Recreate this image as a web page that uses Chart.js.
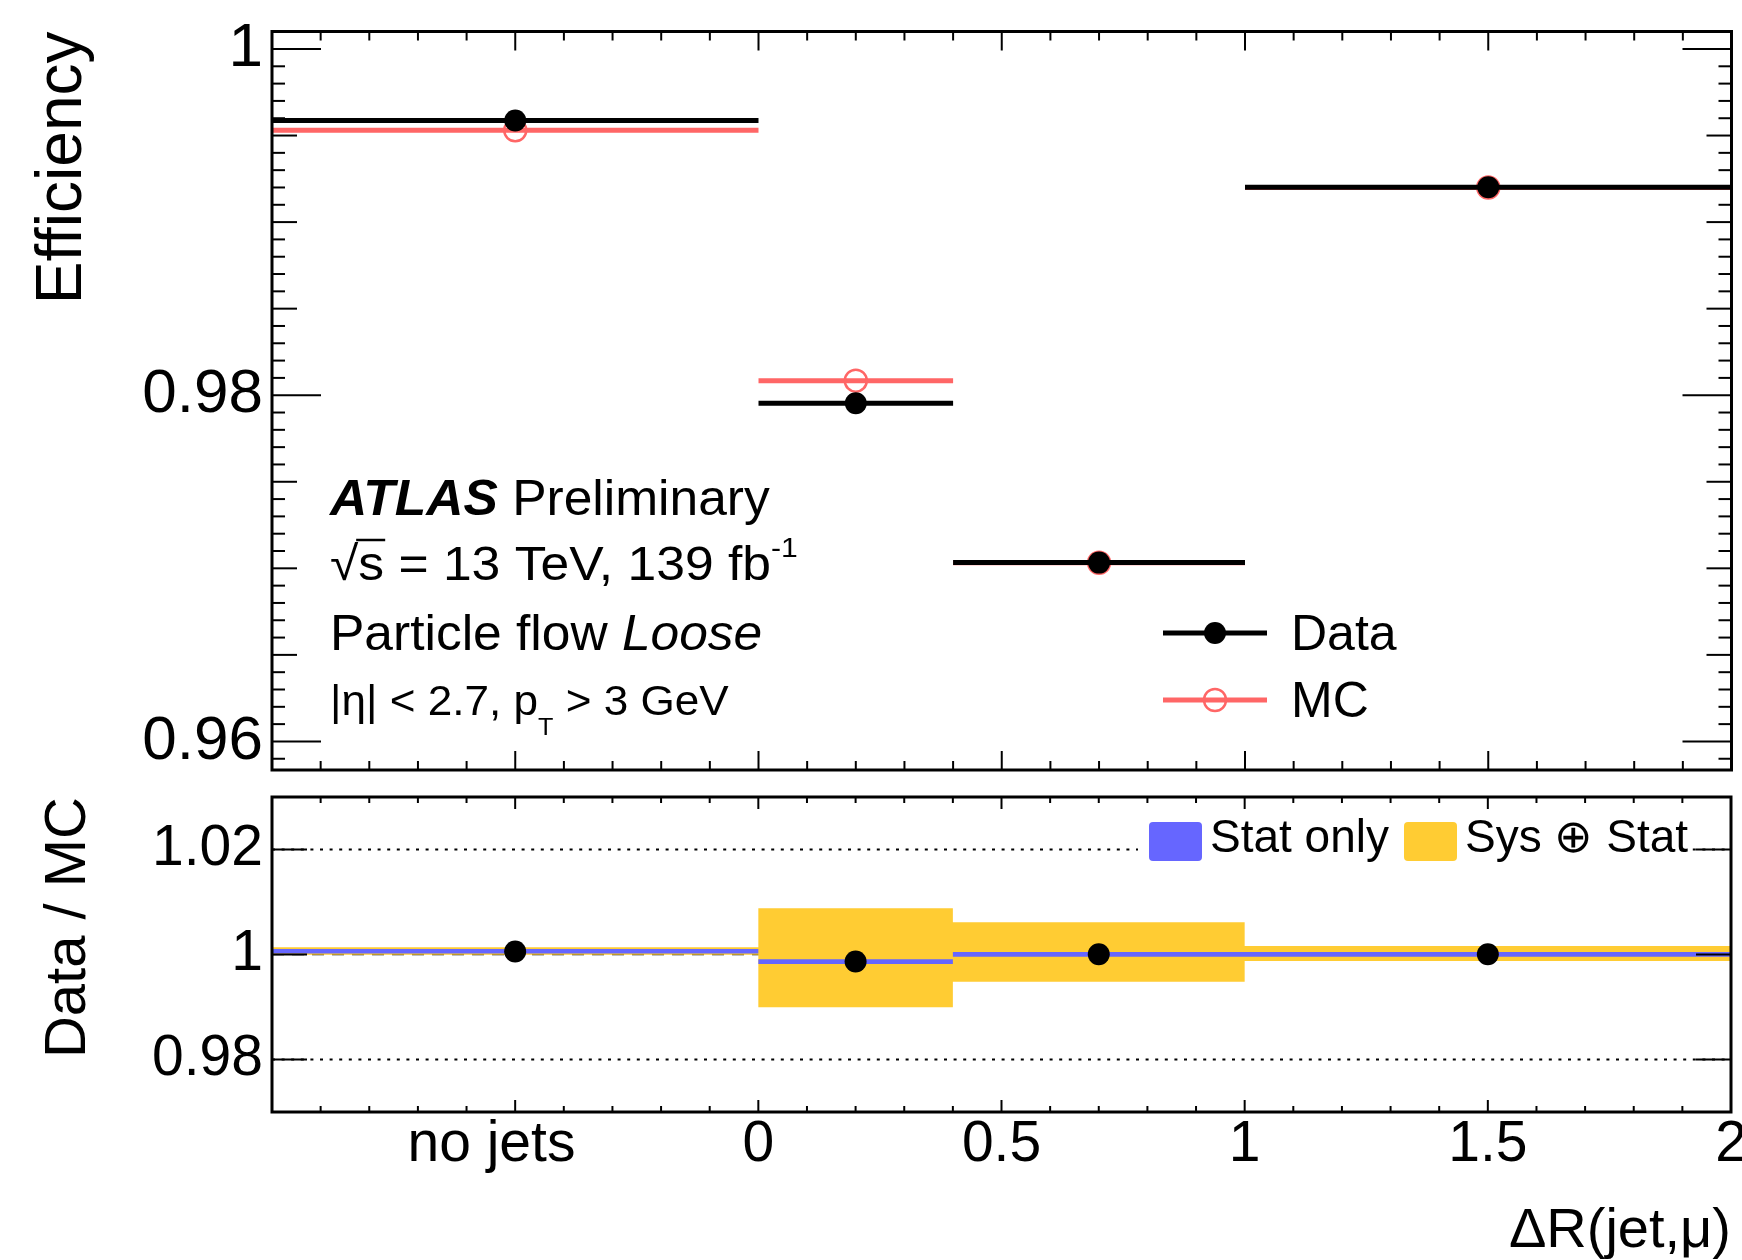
<!DOCTYPE html>
<html>
<head>
<meta charset="utf-8">
<title>Muon efficiency vs ΔR(jet,μ)</title>
<script src="https://cdn.jsdelivr.net/npm/chart.js@4.4.1/dist/chart.umd.min.js"></script>
<style>
  html, body { margin: 0; padding: 0; background: #fff; }
  .panel { position: absolute; left: 0; width: 1742px; }
  #upperBox { top: 0; height: 785px; }
  #lowerBox { top: 785px; height: 475px; }
</style>
</head>
<body>
<div class="panel" id="upperBox"><canvas id="effChart"></canvas></div>
<div class="panel" id="lowerBox"><canvas id="ratioChart"></canvas></div>
<script>
// Bins in dR(jet,mu); the "no jets" bin is drawn on [-1, 0]
const binLow    = [-1.0, 0.0, 0.4, 1.0];
const binHigh   = [ 0.0, 0.4, 1.0, 2.0];
const binCenter = [-0.5, 0.2, 0.7, 1.5];

// Efficiencies (upper panel)
const dataEff = [0.99587, 0.97954, 0.97033, 0.99201];
const mcEff   = [0.99530, 0.98084, 0.97032, 0.99200];

// Data / MC (lower panel)
const ratio    = [1.00057, 0.99865, 1.00003, 1.00004];
const statLow  = [1.00020, 0.99820, 0.99958, 0.99959];
const statHigh = [1.00105, 0.99910, 1.00048, 1.00049];
const sysLow   = [0.99996, 0.98996, 0.99483, 0.99876];
const sysHigh  = [1.00137, 1.00879, 1.00613, 1.00162];

// Axis ticks
const xTickValues = [-0.5, 0, 0.5, 1, 1.5, 2];
const xTickLabels = ['no jets', '0', '0.5', '1', '1.5', '2'];
const effTickValues = [0.96, 0.98, 1.0];
const effTickLabels = ['0.96', '0.98', '1'];
const ratioTickValues = [0.98, 1.0, 1.02];
const ratioTickLabels = ['0.98', '1', '1.02'];

const FONT = '"Liberation Sans", Arial, Helvetica, sans-serif';
const DATA_COLOR = '#000000';
const MC_COLOR = '#ff6666';
const STAT_COLOR = '#6666ff';
const SYS_COLOR = '#ffcc33';

Chart.defaults.font.family = FONT;
Chart.defaults.color = '#000';

// One horizontal bar per bin, with a marker point in the middle of it
function binBars(values) {
    const pts = [];
    values.forEach((v, i) => {
        pts.push({ x: binLow[i], y: v });
        pts.push({ x: binCenter[i], y: v, marker: true });
        pts.push({ x: binHigh[i], y: v });
        pts.push({ x: binHigh[i], y: null });
    });
    return pts;
}

// Step outline of a band edge, used for the filled error boxes
function bandEdge(values) {
    const pts = [];
    values.forEach((v, i) => {
        pts.push({ x: binLow[i], y: v });
        pts.push({ x: binHigh[i], y: v });
    });
    return pts;
}

function markerRadius(c) {
    return c.raw && c.raw.marker ? 11 : 0;
}

function strokeLine(ctx, x0, y0, x1, y1) {
    ctx.beginPath();
    ctx.moveTo(x0, y0);
    ctx.lineTo(x1, y1);
    ctx.stroke();
}

// Write pieces of text one after the other on the same baseline,
// slightly widened like the ROOT rendering
function drawRuns(ctx, x, y, runs, stretch) {
    ctx.save();
    ctx.translate(x, y);
    ctx.scale(stretch || 1, 1);
    let cx = 0;
    runs.forEach(r => {
        ctx.font = r.font;
        ctx.fillText(r.text, cx, r.dy || 0);
        const w = ctx.measureText(r.text).width;
        if (r.over) {
            ctx.lineWidth = 2.5;
            strokeLine(ctx, cx - 2, r.over, cx + w + 1, r.over);
        }
        cx += w;
    });
    ctx.restore();
}

// ROOT style frame with inward ticks on all four sides
const rootFrame = {
    id: 'rootFrame',
    afterDatasetsDraw(chart, args, opts) {
        const { ctx, chartArea: a, scales: { x, y } } = chart;
        ctx.save();
        ctx.strokeStyle = '#000';
        ctx.lineWidth = 2;
        for (let k = Math.ceil(x.min / 0.1 - 1e-6); k <= Math.floor(x.max / 0.1 + 1e-6); k++) {
            const px = x.getPixelForValue(k * 0.1);
            const len = k % 5 === 0 ? opts.xMajor : opts.xMinor;
            strokeLine(ctx, px, a.bottom, px, a.bottom - len);
            strokeLine(ctx, px, a.top, px, a.top + len);
        }
        const step = opts.yStep;
        for (let k = Math.ceil(y.min / step - 1e-6); k <= Math.floor(y.max / step + 1e-6); k++) {
            const py = y.getPixelForValue(k * step);
            const len = opts.yLevels.find(l => k % l[0] === 0)[1];
            strokeLine(ctx, a.left, py, a.left + len, py);
            strokeLine(ctx, a.right, py, a.right - len, py);
        }
        ctx.lineWidth = 3;
        ctx.strokeRect(a.left, a.top, a.right - a.left, a.bottom - a.top);
        ctx.restore();
    }
};

// Labels and legend of the efficiency panel
const upperText = {
    id: 'upperText',
    afterDraw(chart) {
        const ctx = chart.ctx;
        ctx.save();
        ctx.fillStyle = '#000';
        ctx.strokeStyle = '#000';
        ctx.textAlign = 'left';
        ctx.textBaseline = 'alphabetic';

        drawRuns(ctx, 330, 515, [
            { text: 'ATLAS', font: 'italic bold 50px ' + FONT },
            { text: ' Preliminary', font: '50px ' + FONT }
        ], 1.03);

        drawRuns(ctx, 330, 580, [
            { text: '\u221a', font: '48px ' + FONT },
            { text: 's', font: '48px ' + FONT, over: -40 },
            { text: ' = 13 TeV, 139 fb', font: '48px ' + FONT },
            { text: '-1', font: '28px ' + FONT, dy: -23 }
        ], 1.075);

        drawRuns(ctx, 330, 650, [
            { text: 'Particle flow ', font: '50px ' + FONT },
            { text: 'Loose', font: 'italic 50px ' + FONT }
        ], 1.03);

        drawRuns(ctx, 330, 715, [
            { text: '|\u03b7| < 2.7, p', font: '42px ' + FONT },
            { text: 'T', font: '24px ' + FONT, dy: 20 },
            { text: ' > 3 GeV', font: '42px ' + FONT }
        ], 1.05);

        // legend: line with marker, then label
        [{ ds: 0, y: 633 }, { ds: 1, y: 700 }].forEach(item => {
            const d = chart.data.datasets[item.ds];
            ctx.strokeStyle = d.borderColor;
            ctx.lineWidth = d.borderWidth;
            strokeLine(ctx, 1163, item.y, 1267, item.y);
            ctx.beginPath();
            ctx.arc(1215, item.y, 11, 0, 2 * Math.PI);
            ctx.fillStyle = d.pointBackgroundColor;
            ctx.fill();
            if (d.pointBorderWidth > 0) {
                ctx.lineWidth = d.pointBorderWidth;
                ctx.strokeStyle = d.pointBorderColor;
                ctx.stroke();
            }
            ctx.fillStyle = '#000';
            ctx.font = '50px ' + FONT;
            ctx.fillText(d.label, 1291, item.y + 17);
        });
        ctx.restore();
    }
};

// Guide lines of the ratio panel, under the bands
const ratioGuides = {
    id: 'ratioGuides',
    beforeDatasetsDraw(chart) {
        const { ctx, chartArea: a, scales: { y } } = chart;
        ctx.save();
        ctx.strokeStyle = '#000';
        ctx.lineWidth = 2;
        ctx.setLineDash([3, 6.6]);
        ratioTickValues.filter(v => v !== 1).forEach(v => {
            const py = y.getPixelForValue(v);
            strokeLine(ctx, a.left, py, a.right, py);
        });
        ctx.lineWidth = 1.3;
        ctx.setLineDash([12, 8]);
        const p1 = y.getPixelForValue(1);
        strokeLine(ctx, a.left, p1, a.right, p1);
        ctx.restore();
    }
};

// Legend of the ratio panel (white box over the dotted line)
const ratioLegend = {
    id: 'ratioLegend',
    afterDatasetsDraw(chart) {
        const ctx = chart.ctx;
        ctx.save();
        ctx.fillStyle = '#fff';
        ctx.fillRect(1138, 28, 554, 55);
        const items = [
            { x: 1149, color: STAT_COLOR, text: 'Stat only' },
            { x: 1404, color: SYS_COLOR, text: 'Sys \u2295 Stat' }
        ];
        items.forEach(it => {
            ctx.fillStyle = it.color;
            ctx.beginPath();
            if (ctx.roundRect) ctx.roundRect(it.x, 37, 53, 39, 4);
            else ctx.rect(it.x, 37, 53, 39);
            ctx.fill();
            ctx.fillStyle = '#000';
            ctx.font = '46px ' + FONT;
            ctx.textAlign = 'left';
            ctx.textBaseline = 'alphabetic';
            ctx.fillText(it.text, it.x + 61, 67);
        });
        ctx.restore();
    }
};

// Efficiency panel
new Chart(document.getElementById('effChart'), {
    type: 'line',
    data: {
        datasets: [
            {
                label: 'Data',
                data: binBars(dataEff),
                borderColor: DATA_COLOR,
                borderWidth: 5,
                pointRadius: markerRadius,
                pointBackgroundColor: DATA_COLOR,
                pointBorderColor: DATA_COLOR,
                pointBorderWidth: 0,
                spanGaps: false
            },
            {
                label: 'MC',
                data: binBars(mcEff),
                borderColor: MC_COLOR,
                borderWidth: 5,
                pointRadius: markerRadius,
                pointBackgroundColor: 'rgba(0,0,0,0)',
                pointBorderColor: MC_COLOR,
                pointBorderWidth: 2.5,
                spanGaps: false
            }
        ]
    },
    options: {
        responsive: true,
        maintainAspectRatio: false,
        animation: false,
        events: [],
        layout: { padding: { top: 31.5, right: 10.5, left: 0, bottom: 0 } },
        plugins: {
            legend: { display: false },
            tooltip: { enabled: false },
            rootFrame: { xMajor: 19, xMinor: 9, yStep: 0.001, yLevels: [[20, 49], [5, 25], [1, 13]] }
        },
        scales: {
            x: {
                type: 'linear',
                min: -1,
                max: 2,
                grid: { display: false, drawTicks: false },
                border: { display: false },
                ticks: { display: false },
                afterFit: s => { s.height = 15; s.paddingLeft = 0; s.paddingRight = 0; }
            },
            y: {
                type: 'linear',
                min: 0.95835,
                max: 1.00101,
                grid: { display: false, drawTicks: false },
                border: { display: false },
                afterBuildTicks: s => { s.ticks = effTickValues.map(v => ({ value: v })); },
                ticks: {
                    callback: (v, i) => effTickLabels[i],
                    font: { size: 62, lineHeight: 1 },
                    color: '#000',
                    padding: 9
                },
                title: {
                    display: true,
                    text: 'Efficiency',
                    align: 'end',
                    color: '#000',
                    font: { size: 64, lineHeight: 1 },
                    padding: { top: 31, bottom: 0 }
                },
                afterFit: s => { s.width = 272; s.paddingTop = 0; s.paddingBottom = 0; }
            }
        }
    },
    plugins: [rootFrame, upperText]
});

// Data / MC panel
new Chart(document.getElementById('ratioChart'), {
    type: 'line',
    data: {
        datasets: [
            {
                label: 'Data / MC',
                data: binCenter.map((c, i) => ({ x: c, y: ratio[i] })),
                showLine: false,
                pointRadius: 11,
                pointBackgroundColor: DATA_COLOR,
                pointBorderWidth: 0
            },
            {
                label: 'Stat only',
                data: bandEdge(statHigh),
                borderColor: 'rgba(0,0,0,0)',
                borderWidth: 0,
                pointRadius: 0,
                backgroundColor: STAT_COLOR,
                fill: '+1'
            },
            {
                label: 'stat low',
                data: bandEdge(statLow),
                borderColor: 'rgba(0,0,0,0)',
                borderWidth: 0,
                pointRadius: 0,
                fill: false
            },
            {
                label: 'Sys \u2295 Stat',
                data: bandEdge(sysHigh),
                borderColor: 'rgba(0,0,0,0)',
                borderWidth: 0,
                pointRadius: 0,
                backgroundColor: SYS_COLOR,
                fill: '+1'
            },
            {
                label: 'sys low',
                data: bandEdge(sysLow),
                borderColor: 'rgba(0,0,0,0)',
                borderWidth: 0,
                pointRadius: 0,
                fill: false
            }
        ]
    },
    options: {
        responsive: true,
        maintainAspectRatio: false,
        animation: false,
        events: [],
        layout: { padding: { top: 12, right: 10.5, left: 0, bottom: 0 } },
        plugins: {
            legend: { display: false },
            tooltip: { enabled: false },
            rootFrame: { xMajor: 12, xMinor: 6, yStep: 0.02, yLevels: [[1, 35]] }
        },
        scales: {
            x: {
                type: 'linear',
                min: -1,
                max: 2,
                grid: { display: false, drawTicks: false },
                border: { display: false },
                afterBuildTicks: s => { s.ticks = xTickValues.map(v => ({ value: v })); },
                ticks: {
                    // the "no jets" label sits a little left of its tick
                    callback: (v, i) => xTickLabels[i] + (i === 0 ? '\u00a0\u00a0\u00a0' : ''),
                    font: { size: 57, lineHeight: 1 },
                    color: '#000',
                    padding: 5,
                    autoSkip: false,
                    maxRotation: 0
                },
                title: {
                    display: true,
                    text: '\u0394R(jet,\u03bc)',
                    align: 'end',
                    color: '#000',
                    font: { size: 56, lineHeight: 1 },
                    padding: { top: 0, bottom: 0 }
                },
                afterFit: s => { s.height = 148; s.paddingLeft = 0; s.paddingRight = 0; }
            },
            y: {
                type: 'linear',
                min: 0.97,
                max: 1.03,
                grid: { display: false, drawTicks: false },
                border: { display: false },
                afterBuildTicks: s => { s.ticks = ratioTickValues.map(v => ({ value: v })); },
                ticks: {
                    callback: (v, i) => ratioTickLabels[i],
                    font: { size: 57, lineHeight: 1 },
                    color: '#000',
                    padding: 9
                },
                title: {
                    display: true,
                    text: 'Data / MC',
                    align: 'end',
                    color: '#000',
                    font: { size: 58, lineHeight: 1 },
                    padding: { top: 40, bottom: 0 }
                },
                afterFit: s => { s.width = 272; s.paddingTop = 0; s.paddingBottom = 0; }
            }
        }
    },
    plugins: [ratioGuides, ratioLegend, rootFrame]
});
</script>
</body>
</html>
